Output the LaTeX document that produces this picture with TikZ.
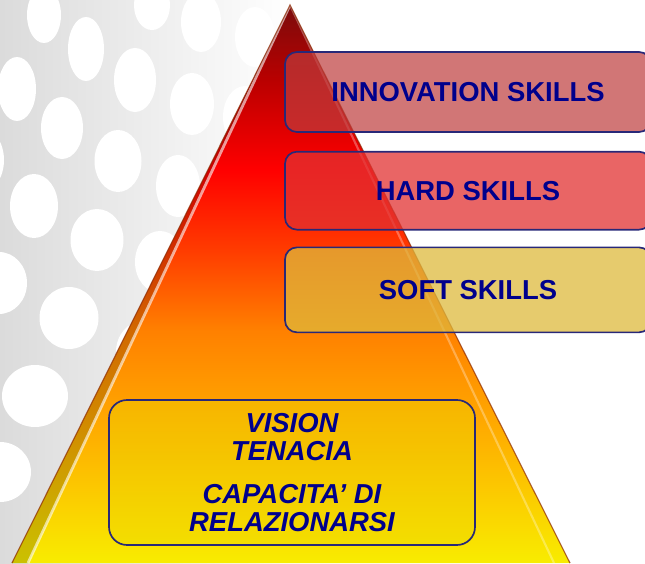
\documentclass[tikz,border=0pt]{standalone}
\usepackage{fontspec}
\newfontfamily\skillfont{Liberation Sans}
\usetikzlibrary{positioning}

\definecolor{backgrey}{RGB}{219,219,219}
\definecolor{navyline}{RGB}{40,40,120}
\definecolor{navytext}{RGB}{0,0,140}
\definecolor{pyredge}{RGB}{140,40,0}
\definecolor{pyrTop}{RGB}{122,12,12}
\definecolor{pyrDark}{RGB}{185,0,0}
\definecolor{pyrRed}{RGB}{255,0,0}
\definecolor{pyrRedOr}{RGB}{255,60,0}
\definecolor{pyrOrange}{RGB}{255,128,0}
\definecolor{pyrAmber}{RGB}{255,168,0}
\definecolor{pyrYellow}{RGB}{248,236,0}
\definecolor{innovfill}{RGB}{190,60,60}
\definecolor{hardfill}{RGB}{225,50,50}
\definecolor{softfill}{RGB}{222,185,60}
\definecolor{basefill}{RGB}{235,215,0}

\pgfdeclareverticalshading{pyramidshade}{100bp}{color(0bp)=(pyrYellow); color(25bp)=(pyrYellow); color(37.8bp)=(pyrAmber); color(45.9bp)=(pyrOrange); color(53bp)=(pyrRedOr); color(60.2bp)=(pyrRed); color(68.3bp)=(pyrDark); color(75bp)=(pyrTop); color(100bp)=(pyrTop)}

\begin{document}
\begin{tikzpicture}[
    skillbox/.style={draw=navyline, line width=1.2pt, rounded corners=0.3cm,
        minimum width=9.15cm, text=navytext, text opacity=1,
        font=\skillfont\bfseries\fontsize{19.5}{20}\selectfont},
]
    \useasboundingbox (0,0) rectangle (16.125,14.075);

    % Grey backdrop with white dots
    \begin{scope}
        \clip (0,0) rectangle (16.125,14.075);
        \shade[left color=backgrey, right color=white] (0,0) rectangle (7.3,14.075);
        \foreach \x/\y/\rx/\ry in {1.1/13.7/0.425/0.7, 2.15/12.85/0.45/0.8,
            3.8/13.95/0.45/0.625, 5.025/13.525/0.5/0.75, 6.375/13.15/0.5/0.75,
            0.425/11.85/0.475/0.8, 1.55/10.875/0.525/0.775, 3.375/12.075/0.525/0.8,
            4.8/11.475/0.55/0.775, 6.125/11.15/0.55/0.775, 2.95/10.05/0.5875/0.775,
            -0.425/10.075/0.525/0.775, 0.85/8.925/0.6/0.8, 4.45/9.425/0.55/0.775,
            2.425/8.075/0.6625/0.775, 4.0/7.525/0.625/0.775, -0.025/7.0/0.7/0.775,
            1.725/6.125/0.7375/0.775, 3.575/5.275/0.675/0.775, 0.875/4.175/0.825/0.775,
            0/2.275/0.775/0.75}
            \fill[white] (\x,\y) ellipse [x radius=\rx, y radius=\ry];
    \end{scope}

    % Pyramid
    \coordinate (apex) at (7.25,13.95);
    \coordinate (baseL) at (0.3,0);
    \coordinate (baseR) at (14.25,0);
    \coordinate (glintL) at (0.7,0);
    \coordinate (glintR) at (13.85,0);
    \shade[shading=pyramidshade] (apex) -- (baseL) -- (baseR) -- cycle;
    \fill[black, opacity=0.18] (apex) -- (baseL) -- (glintL) -- cycle;
    \draw[white, opacity=0.6, line width=2pt] (apex) -- (glintL);
    \draw[white, opacity=0.3, line width=1.5pt] (apex) -- (glintR);
    \draw[pyredge, opacity=0.7, line width=0.8pt] (baseL) -- (apex) -- (baseR);

    % Skill boxes
    \node[skillbox, fill=innovfill, fill opacity=0.7, minimum height=2cm]
        (innov) at (11.7,11.775) {INNOVATION SKILLS};
    \node[skillbox, fill=hardfill, fill opacity=0.75, minimum height=1.95cm,
        below=0.45cm of innov] (hard) {HARD SKILLS};
    \node[skillbox, fill=softfill, fill opacity=0.75, minimum height=2.125cm,
        below=0.4cm of hard] (soft) {SOFT SKILLS};

    % Base of the pyramid
    \node[skillbox, fill=basefill, fill opacity=0.4, rounded corners=0.45cm,
        minimum height=3.625cm, align=center, font=\skillfont\bfseries\itshape\fontsize{19.5}{20}\selectfont]
        (base) at (7.3,2.2625) {VISION\\TENACIA\\[10pt]CAPACITA’ DI\\RELAZIONARSI};
\end{tikzpicture}
\end{document}
